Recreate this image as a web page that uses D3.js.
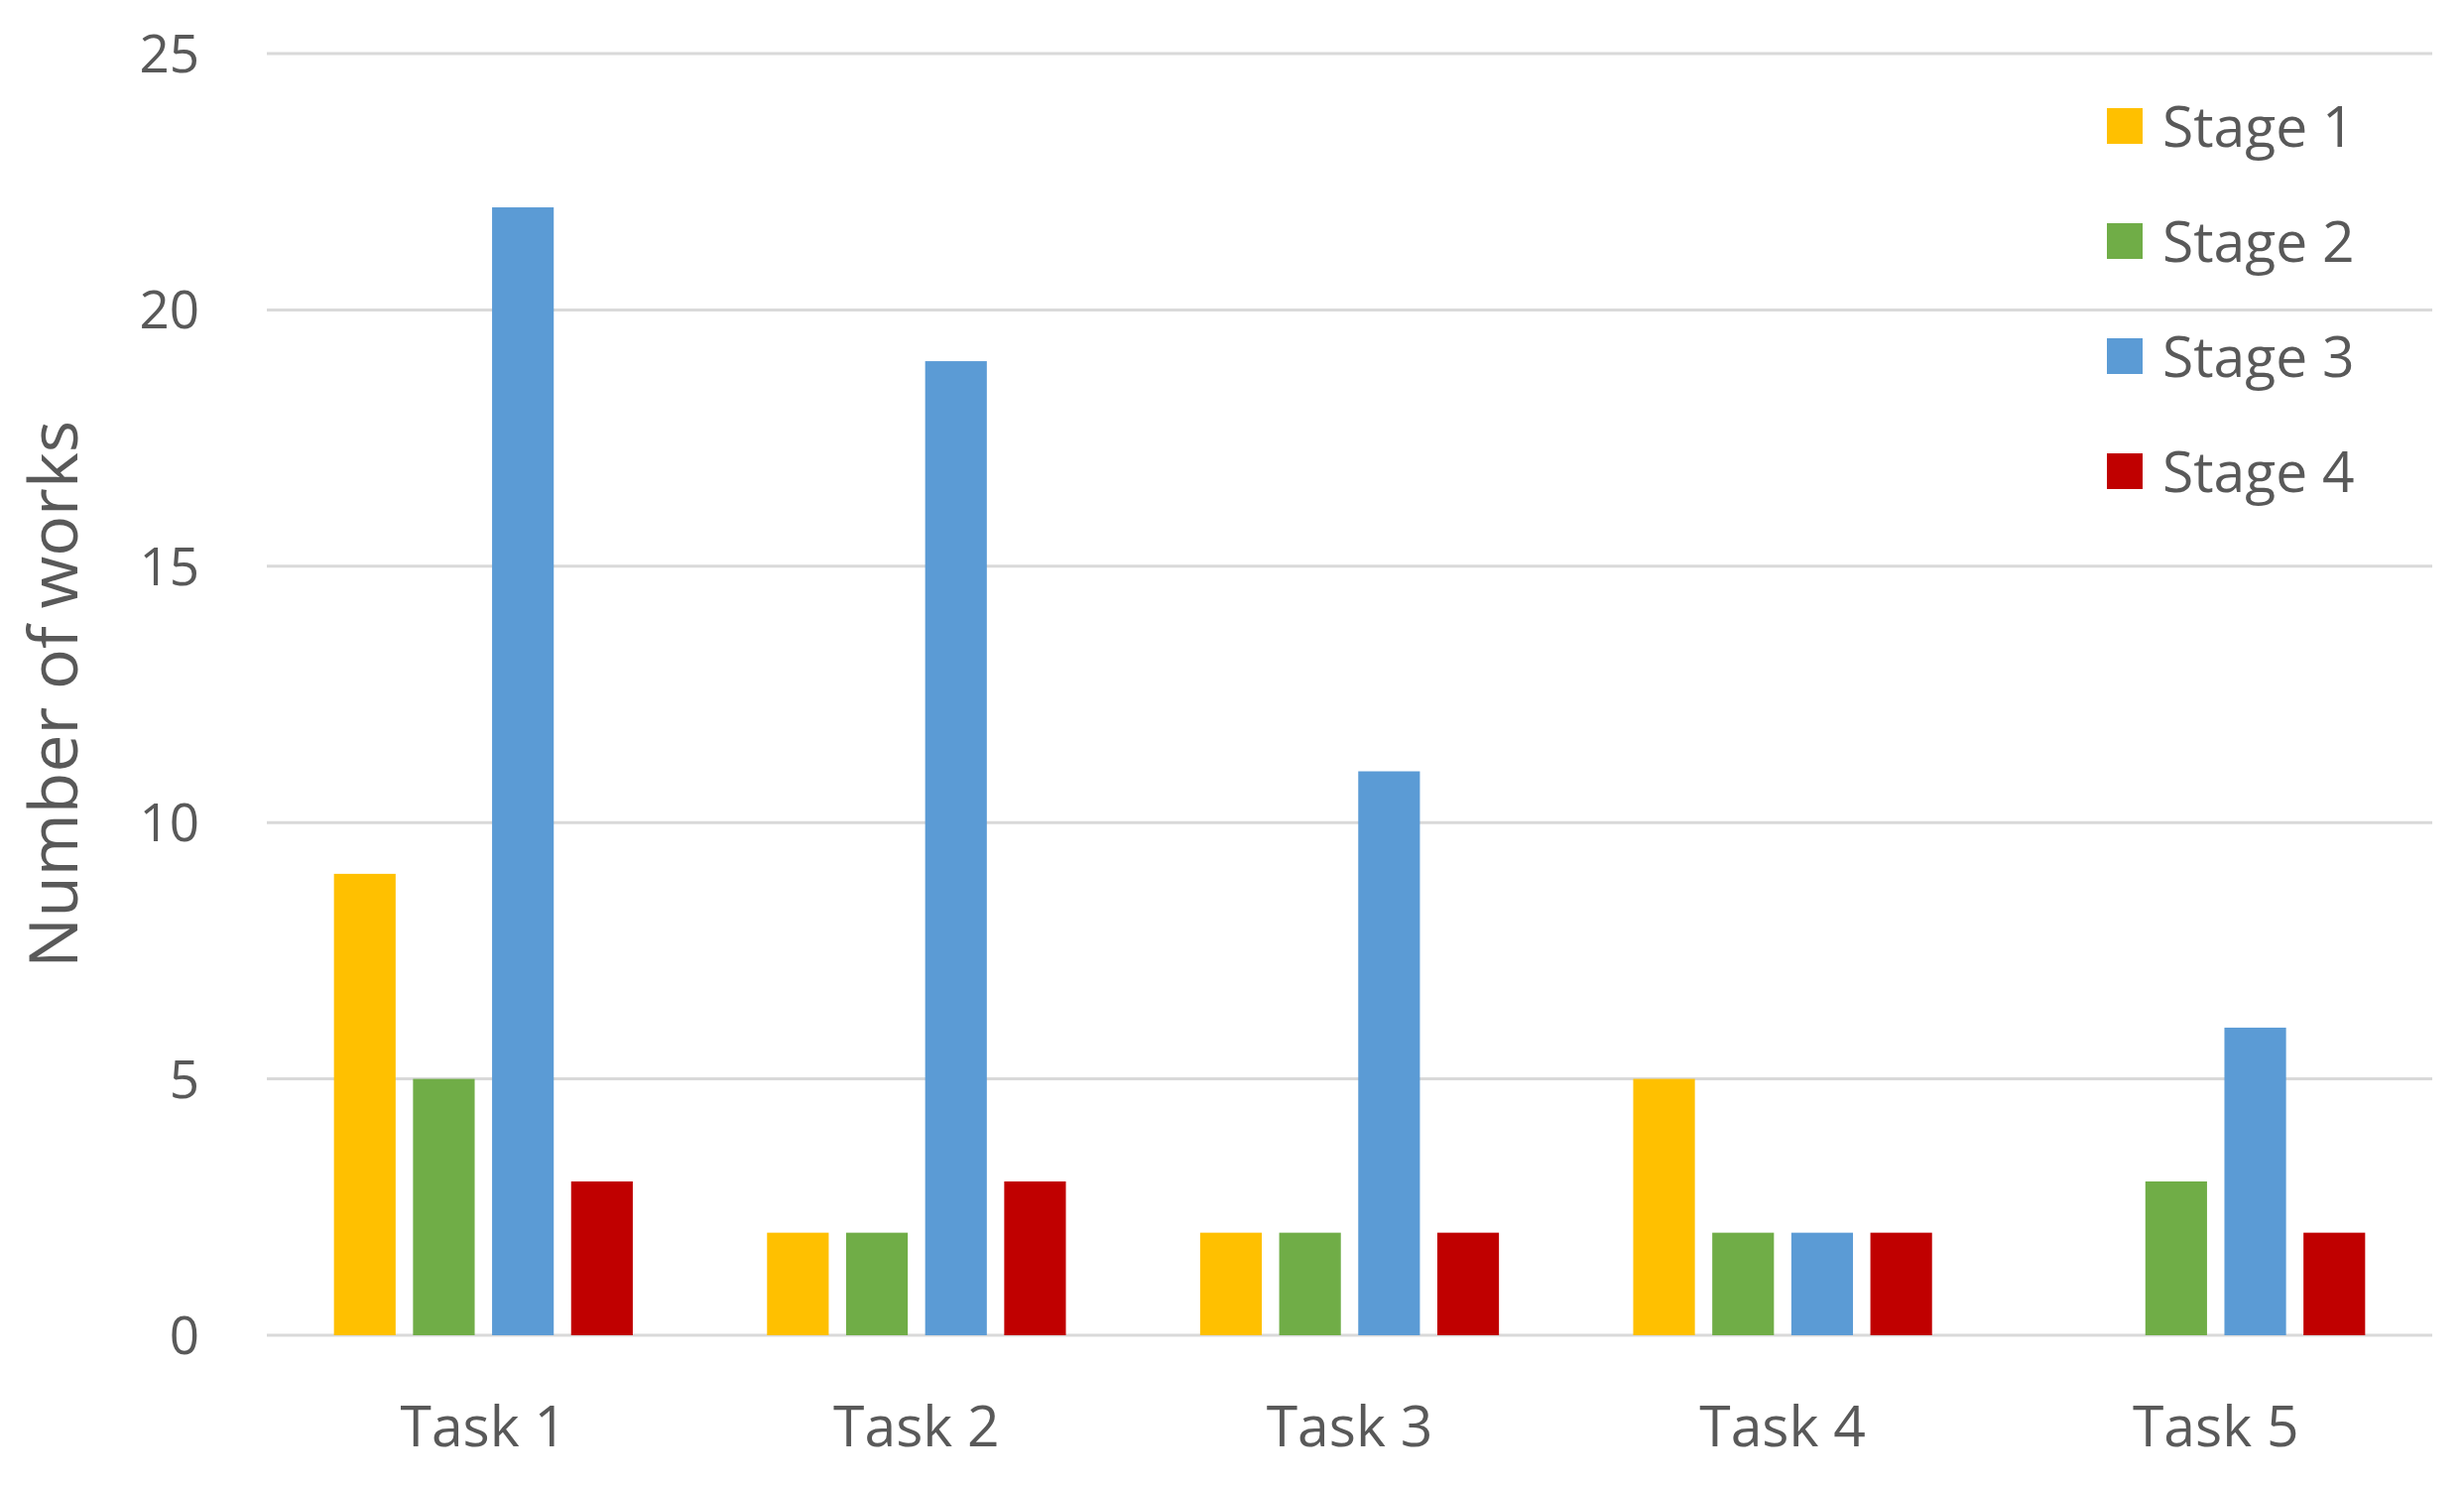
<!DOCTYPE html>
<html><head><meta charset="utf-8">
<script src="https://cdn.jsdelivr.net/npm/d3@7"></script>
<style>body{margin:0;background:#fff}</style>
</head><body>
<svg id="chart" width="2484" height="1500"></svg>
<script>
var tasks = ["Task 1", "Task 2", "Task 3", "Task 4", "Task 5"];
var stages = ["Stage 1", "Stage 2", "Stage 3", "Stage 4"];
var stage1 = [9, 2, 2, 5, 0];
var stage2 = [5, 2, 2, 2, 3];
var stage3 = [22, 19, 11, 2, 6];
var stage4 = [3, 3, 2, 2, 2];
var yTicks = [0, 5, 10, 15, 20, 25];
var colors = ["#FFC000", "#70AD47", "#5B9BD5", "#C00000"];

var series = [stage1, stage2, stage3, stage4];
var svg = d3.select("#chart");
var font = "'Open Sans', 'DejaVu Sans', sans-serif";
var textColor = "#595959";

// "top" clashes with window.top, so plot edges get their own names
var plotLeft = 269, plotRight = 2452, plotTop = 54, plotBottom = 1346;

var x = d3.scaleBand().domain(tasks).range([plotLeft, plotRight]);
var xs = d3.scaleBand().domain(stages).range([0, x.bandwidth() * 0.69]).paddingInner(0.22);
var groupOffset = (x.bandwidth() - xs.range()[1]) / 2;
var y = d3.scaleLinear().domain([0, 25]).range([plotBottom, plotTop]);

// gridlines
svg.append("g").selectAll("line")
    .data(yTicks)
    .join("line")
    .attr("x1", plotLeft).attr("x2", plotRight)
    .attr("y1", function(d) { return y(d); })
    .attr("y2", function(d) { return y(d); })
    .attr("stroke", "#d9d9d9")
    .attr("stroke-width", 3);

// y tick labels
svg.append("g").selectAll("text")
    .data(yTicks)
    .join("text")
    .attr("x", 201)
    .attr("y", function(d) { return y(d); })
    .attr("dy", "0.36em")
    .attr("text-anchor", "end")
    .attr("font-family", font)
    .attr("font-size", 53)
    .attr("fill", textColor)
    .text(function(d) { return d; });

// bars
series.forEach(function(vals, si) {
    svg.append("g").selectAll("rect")
        .data(vals)
        .join("rect")
        .attr("x", function(d, i) { return x(tasks[i]) + groupOffset + xs(stages[si]); })
        .attr("width", xs.bandwidth())
        .attr("y", function(d) { return y(d); })
        .attr("height", function(d) { return y(0) - y(d); })
        .attr("fill", colors[si]);
});

// x labels
svg.append("g").selectAll("text")
    .data(tasks)
    .join("text")
    .attr("x", function(d) { return x(d) + x.bandwidth() / 2; })
    .attr("y", 1458)
    .attr("text-anchor", "middle")
    .attr("font-family", font)
    .attr("font-size", 57)
    .attr("fill", textColor)
    .text(function(d) { return d; });

// y title
svg.append("text")
    .attr("transform", "translate(78,700)rotate(-90)")
    .attr("text-anchor", "middle")
    .attr("font-family", font)
    .attr("font-size", 68)
    .attr("fill", textColor)
    .text("Number of works");

// legend
var legend = svg.append("g").selectAll("g")
    .data(stages)
    .join("g")
    .attr("transform", function(d, i) { return "translate(2124," + (127 + i * 116) + ")"; });
legend.append("rect")
    .attr("x", 0).attr("y", -18)
    .attr("width", 36).attr("height", 36)
    .attr("fill", function(d, i) { return colors[i]; });
legend.append("text")
    .attr("x", 56).attr("y", 0)
    .attr("dy", "0.36em")
    .attr("font-family", font)
    .attr("font-size", 57)
    .attr("fill", textColor)
    .text(function(d) { return d; });
</script>
</body></html>
